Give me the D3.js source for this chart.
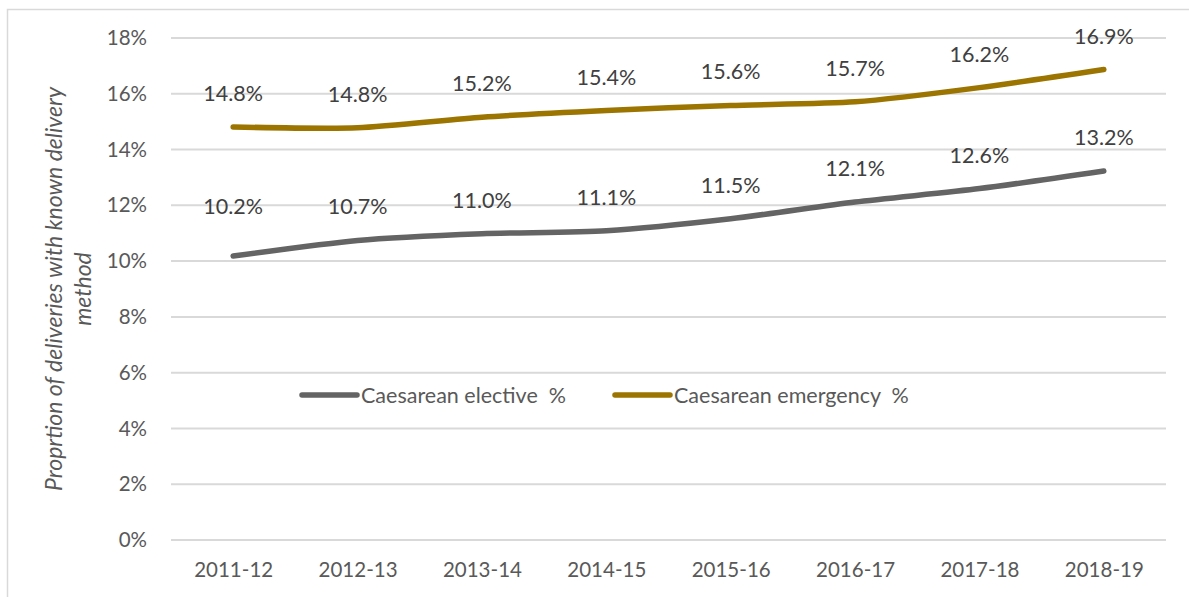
<!DOCTYPE html>
<html>
<head>
<meta charset="utf-8">
<script src="https://cdn.jsdelivr.net/npm/d3@7"></script>
<style>
  body { margin: 0; background: #fff; }
  svg { display: block; font-family: Lato, "Open Sans", sans-serif; }
</style>
</head>
<body>
<svg id="chart" width="1189" height="597"></svg>
<script>
const years = ["2011-12", "2012-13", "2013-14", "2014-15", "2015-16", "2016-17", "2017-18", "2018-19"];
const elective = [10.18, 10.74, 10.98, 11.09, 11.52, 12.12, 12.6, 13.23];
const emergency = [14.81, 14.78, 15.16, 15.4, 15.58, 15.71, 16.22, 16.87];
const yTicks = [0, 2, 4, 6, 8, 10, 12, 14, 16, 18];

const series = [
  { name: "Caesarean elective\u00A0 %", values: elective, color: "#646464" },
  { name: "Caesarean emergency\u00A0 %", values: emergency, color: "#9c7400" }
];

const width = 1189, height = 597;
const margin = { top: 38, right: 23, bottom: 57, left: 171 };
const innerWidth = width - margin.left - margin.right;
const innerHeight = height - margin.top - margin.bottom;
const textColor = "#595959";

const svg = d3.select("#chart");

// chart frame (left and top edges, the rest runs off the picture)
svg.append("path")
  .attr("d", "M7.5,597 V9.5 H1189")
  .attr("fill", "none")
  .attr("stroke", "#d9d9d9")
  .attr("stroke-width", 1.5);

const g = svg.append("g")
  .attr("transform", `translate(${margin.left}, ${margin.top})`);

const x = d3.scalePoint().domain(years).range([0, innerWidth]).padding(0.5);
const y = d3.scaleLinear().domain([0, 18]).range([innerHeight, 0]);

// gridlines
g.selectAll(".grid")
  .data(yTicks)
  .enter()
  .append("line")
  .attr("x1", 0).attr("x2", innerWidth)
  .attr("y1", (d) => y(d)).attr("y2", (d) => y(d))
  .attr("stroke", "#d9d9d9")
  .attr("stroke-width", 2);

// y axis
const yAxis = g.append("g")
  .call(d3.axisLeft(y).tickValues(yTicks).tickFormat((d) => d + "%").tickSize(0).tickPadding(24));
yAxis.select(".domain").remove();
yAxis.selectAll("text").attr("fill", textColor).attr("font-size", 20.5).attr("font-family", "Lato");

// x axis
const xAxis = g.append("g")
  .attr("transform", `translate(0, ${innerHeight})`)
  .call(d3.axisBottom(x).tickSize(0).tickPadding(22));
xAxis.select(".domain").remove();
xAxis.selectAll("text").attr("fill", textColor).attr("font-size", 20.5).attr("font-family", "Lato");

// y axis title
const title = svg.append("text")
  .attr("transform", `translate(62, ${margin.top + innerHeight / 2}) rotate(-90)`)
  .attr("text-anchor", "middle")
  .attr("font-style", "italic")
  .attr("font-size", 23)
  .attr("fill", textColor);
title.append("tspan").attr("x", 0).attr("dy", 0).text("Proprtion of deliveries with known delivery");
title.append("tspan").attr("x", 0).attr("dy", 29).text("method");

// lines
const line = d3.line()
  .x((d, i) => x(years[i]))
  .y((d) => y(d))
  .curve(d3.curveCardinal.tension(0.3));

series.forEach((s) => {
  g.append("path")
    .datum(s.values)
    .attr("fill", "none")
    .attr("stroke", s.color)
    .attr("stroke-width", 5.5)
    .attr("stroke-linecap", "round")
    .attr("d", line);

  g.selectAll(null)
    .data(s.values)
    .enter()
    .append("text")
    .attr("x", (d, i) => x(years[i]))
    .attr("y", (d, i) => y(d) - (s.values === elective && i === 0 ? 42 : 26))
    .attr("text-anchor", "middle")
    .attr("font-size", 21.5)
    .attr("fill", "#404040")
    .text((d) => d.toFixed(1) + "%");
});

// legend
const legend = svg.append("g").attr("transform", "translate(302, 395)");
const legendX = [0, 313];
series.forEach((s, i) => {
  legend.append("line")
    .attr("x1", legendX[i]).attr("x2", legendX[i] + 55)
    .attr("y1", 0).attr("y2", 0)
    .attr("stroke", s.color)
    .attr("stroke-width", 5.5)
    .attr("stroke-linecap", "round");
  legend.append("text")
    .attr("x", legendX[i] + 59)
    .attr("y", 7.5)
    .attr("font-size", 21.5)
    .attr("fill", textColor)
    .text(s.name);
});
</script>
</body>
</html>
